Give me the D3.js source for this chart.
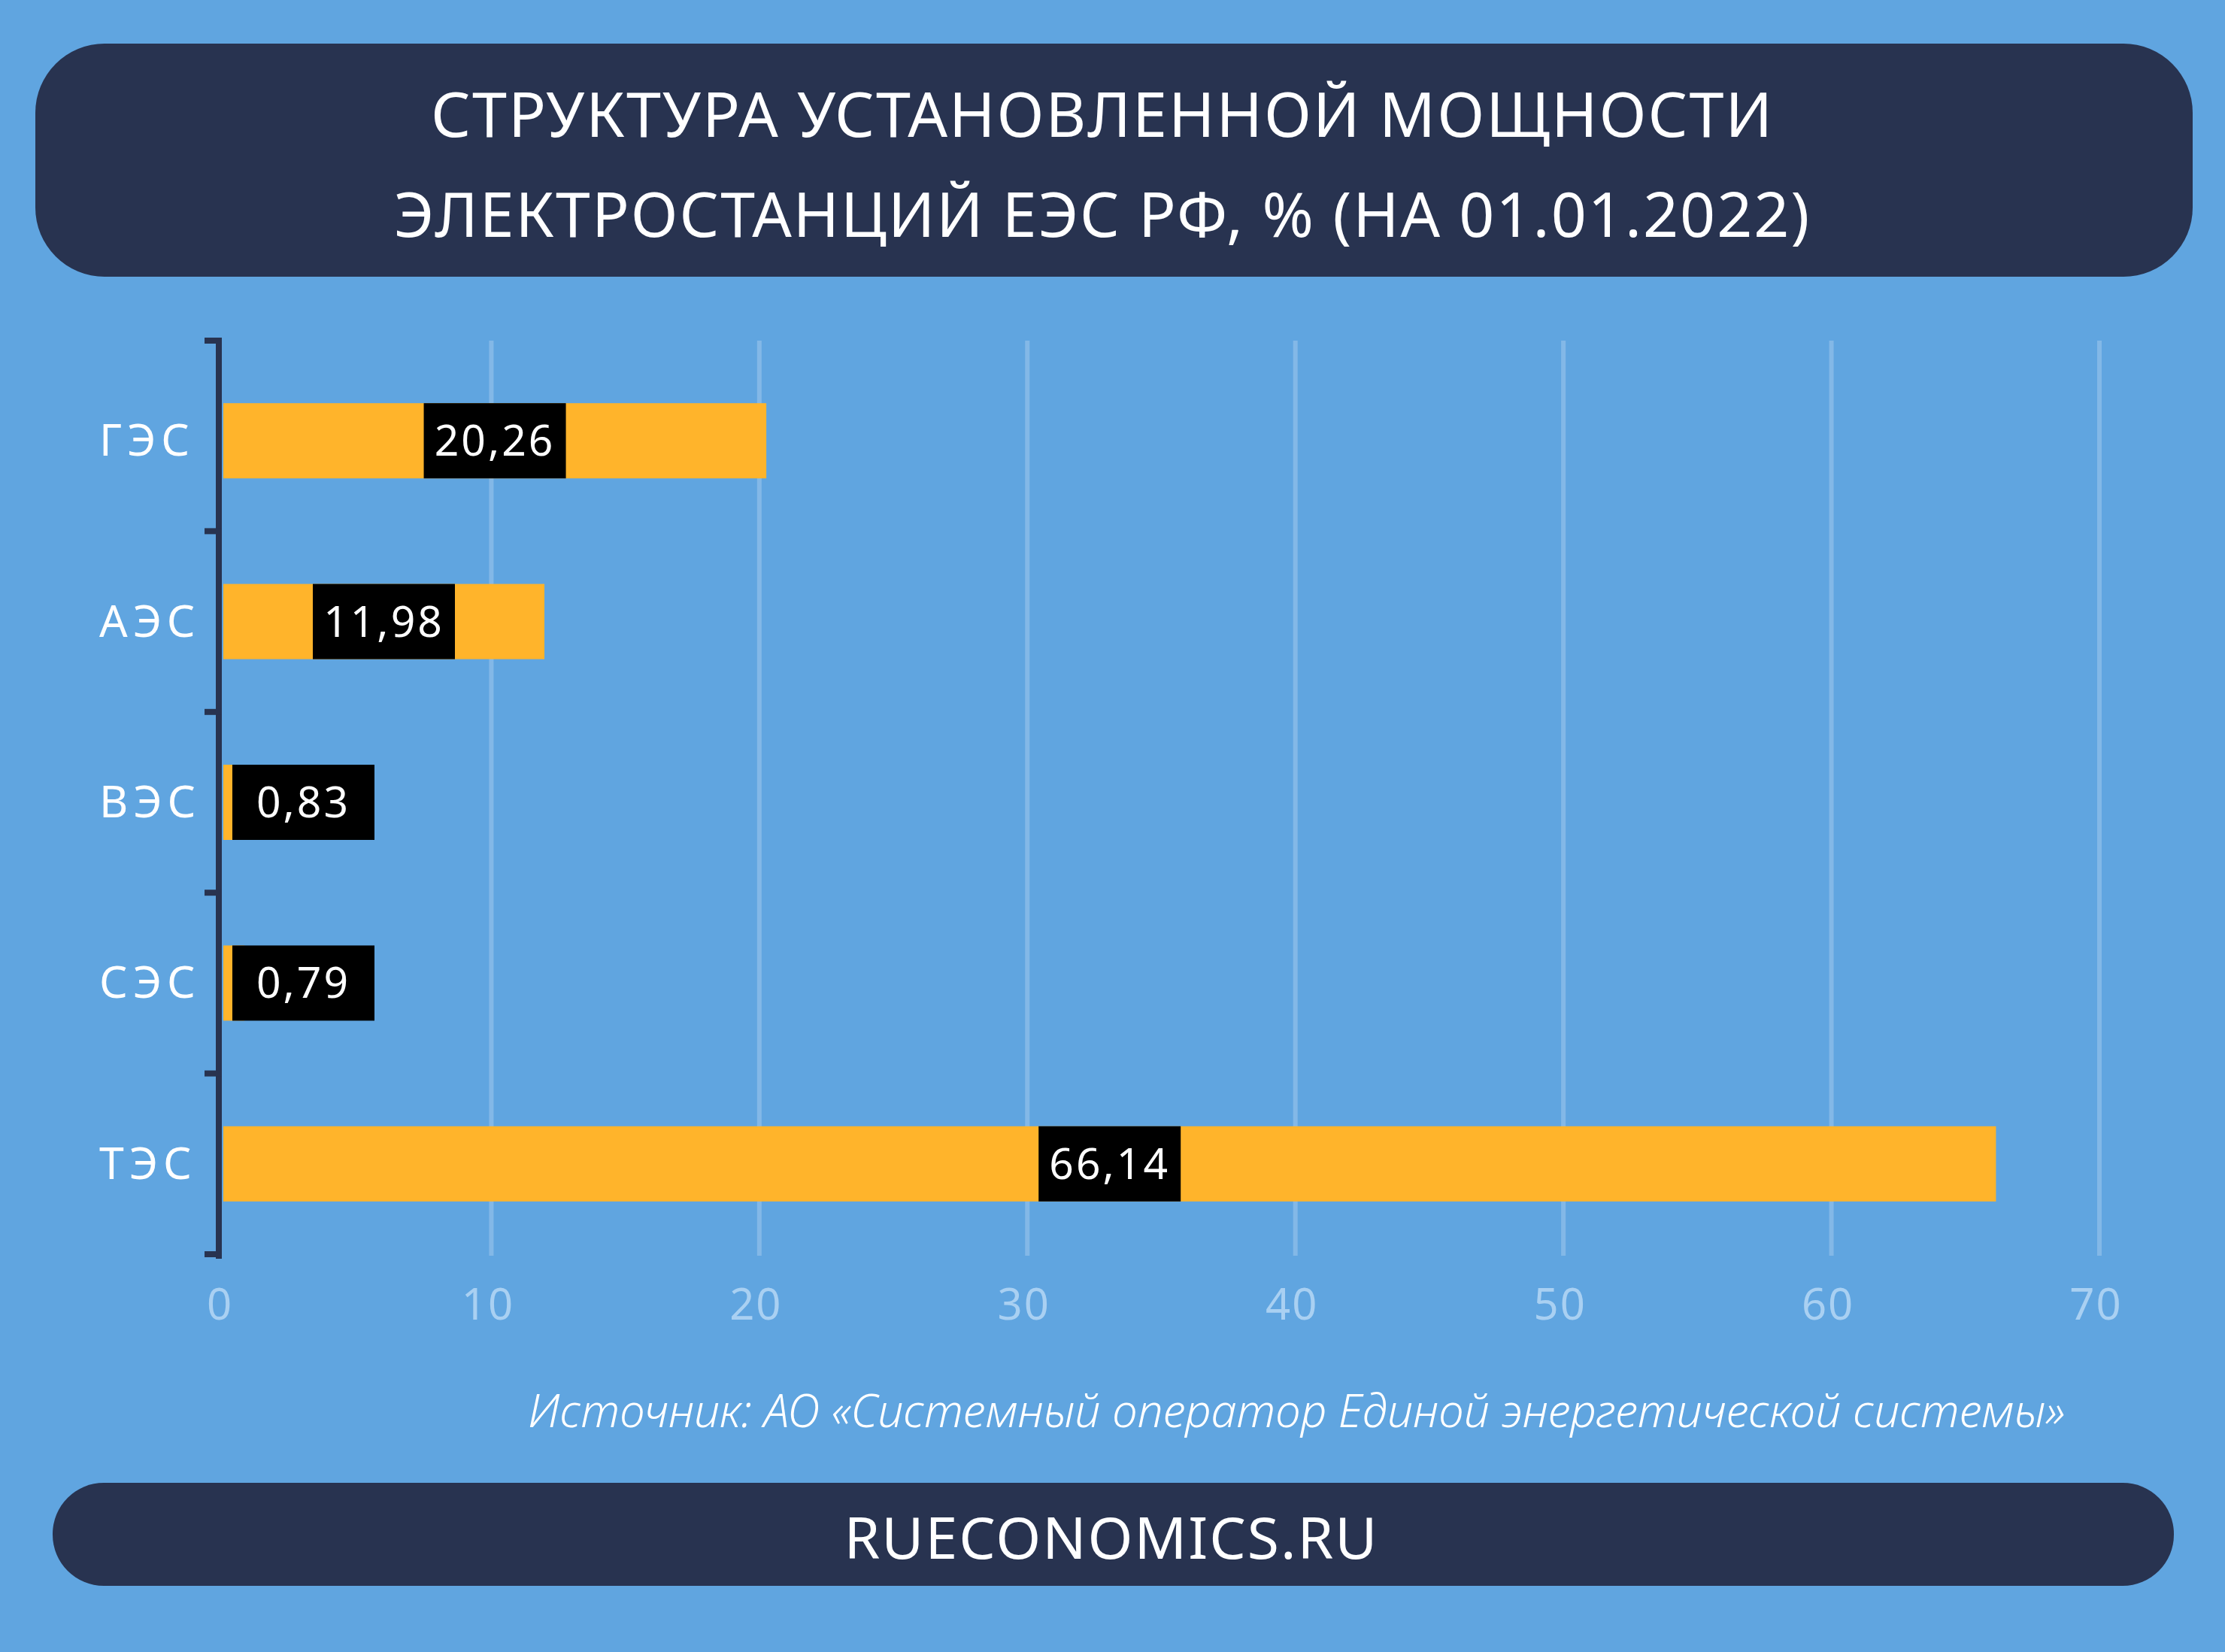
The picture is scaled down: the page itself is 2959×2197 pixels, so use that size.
<!DOCTYPE html>
<html>
<head>
<meta charset="utf-8">
<script src="https://cdn.jsdelivr.net/npm/d3@7"></script>
<style>
  html, body { margin: 0; padding: 0; background: #60A5E0; }
  svg { display: block; }
  text { font-family: "Noto Sans", "Open Sans", sans-serif; }
</style>
</head>
<body>
<svg id="chart" width="2959" height="2197"></svg>
<script>
// ---- data ----
const categories = ["ГЭС", "АЭС", "ВЭС", "СЭС", "ТЭС"];
const values = [20.26, 11.98, 0.83, 0.79, 66.14];
const valueLabels = ["20,26", "11,98", "0,83", "0,79", "66,14"];
const xTicks = [0, 10, 20, 30, 40, 50, 60, 70];
const titleLines = ["СТРУКТУРА УСТАНОВЛЕННОЙ МОЩНОСТИ", "ЭЛЕКТРОСТАНЦИЙ ЕЭС РФ, % (НА 01.01.2022)"];
const sourceText = "Источник: АО «Системный оператор Единой энергетической системы»";
const footerText = "RUECONOMICS.RU";

// ---- style ----
const C = {
  bg: "#60A5E0", dark: "#283350", bar: "#FFB42B", box: "#000000",
  white: "#FFFFFF", tick: "#A9D0F2", grid: "rgba(255,255,255,0.22)"
};

const svg = d3.select("#chart");
svg.append("rect").attr("width", 2959).attr("height", 2197).attr("fill", C.bg);

function fit(sel, target, lo = 0.85, hi = 1.15) {
  const fs = +sel.attr("font-size");
  const w = sel.node().getComputedTextLength();
  let k = target / w;
  k = Math.max(lo, Math.min(hi, k));
  sel.attr("font-size", fs * k);
}

// ---- title box ----
svg.append("rect").attr("x", 47).attr("y", 58).attr("width", 2869).attr("height", 310)
  .attr("rx", 92).attr("ry", 92).attr("fill", C.dark);
const titleW = [1787, 1885];
const titleY = [182, 315];
titleLines.forEach((t, i) => {
  const s = svg.append("text").attr("x", 1466).attr("y", titleY[i])
    .attr("text-anchor", "middle").attr("fill", C.white)
    .attr("font-size", 82).attr("font-weight", 400).attr("letter-spacing", 2).text(t);
  fit(s, titleW[i]);
});

// ---- scales ----
const x = d3.scaleLinear().domain([0, 70]).range([297, 2792]);
const y = d3.scaleBand().domain(categories).range([466, 1668])
  .paddingInner(0.584).paddingOuter(0.292);
const step = y.step();

// gridlines
svg.append("g").selectAll("line").data(xTicks.filter(d => d > 0)).join("line")
  .attr("x1", d => x(d)).attr("x2", d => x(d))
  .attr("y1", y.range()[0] - 13).attr("y2", y.range()[1] + 2)
  .attr("stroke", C.grid).attr("stroke-width", 6);

// x axis tick labels
const xAxis = d3.axisBottom(x).tickValues(xTicks).tickSize(0).tickPadding(0)
  .tickFormat(d3.format("d"));
const gx = svg.append("g").attr("transform", `translate(-5,1755)`).call(xAxis);
gx.select(".domain").remove();
gx.selectAll("text").attr("dy", 0).attr("y", 0)
  .attr("fill", C.tick).attr("font-size", 58).attr("font-weight", 400)
  .attr("letter-spacing", 2)
  .style("font-family", '"Noto Sans", sans-serif');

// bars
const bars = svg.append("g");
bars.selectAll("rect").data(categories).join("rect")
  .attr("x", x(0)).attr("y", d => y(d))
  .attr("width", (d, i) => x(values[i]) - x(0))
  .attr("height", y.bandwidth()).attr("fill", C.bar);

// value label boxes
const boxW = 189;
const lab = svg.append("g").selectAll("g").data(categories).join("g")
  .attr("transform", (d, i) => {
    const cx = Math.max((x(0) + x(values[i])) / 2, x(0) + 12 + boxW / 2);
    return `translate(${cx},${y(d)})`;
  });
lab.append("rect").attr("x", -boxW / 2).attr("y", 0).attr("width", boxW)
  .attr("height", y.bandwidth()).attr("fill", C.box);
lab.append("text").attr("x", 0).attr("y", y.bandwidth() / 2 + 20)
  .attr("text-anchor", "middle").attr("fill", C.white)
  .attr("font-size", 57).attr("letter-spacing", 3).text((d, i) => valueLabels[i]);

// y axis line + ticks
const axisG = svg.append("g");
const yTop = y.range()[0] - 13, yBot = y.range()[1] + 2;
axisG.append("line").attr("x1", 291).attr("x2", 291).attr("y1", yTop - 4).attr("y2", yBot + 4)
  .attr("stroke", C.dark).attr("stroke-width", 8);
const tickYs = [yTop].concat(categories.map(c => y(c) + y.bandwidth() / 2 + step / 2));
axisG.selectAll("line.t").data(tickYs).join("line").attr("class", "t")
  .attr("x1", 272).attr("x2", 295).attr("y1", d => d).attr("y2", d => d)
  .attr("stroke", C.dark).attr("stroke-width", 8);

// category labels
svg.append("g").selectAll("text").data(categories).join("text")
  .attr("x", 132).attr("y", d => y(d) + y.bandwidth() / 2 + 20)
  .attr("fill", C.white).attr("font-size", 59).attr("letter-spacing", 7).text(d => d);

// source
const src = svg.append("text").attr("x", 2746).attr("y", 1898).attr("text-anchor", "end")
  .attr("fill", C.white).attr("font-size", 56).attr("font-style", "italic")
  .attr("font-weight", 300).text(sourceText);
fit(src, 2044);

// footer
svg.append("rect").attr("x", 70).attr("y", 1972).attr("width", 2821).attr("height", 137)
  .attr("rx", 68).attr("ry", 68).attr("fill", C.dark);
const ft = svg.append("text").attr("x", 1478).attr("y", 2073).attr("text-anchor", "middle")
  .attr("fill", C.white).attr("font-size", 77).attr("font-weight", 400).attr("letter-spacing", 2)
  .text(footerText);
fit(ft, 711);
</script>
</body>
</html>
